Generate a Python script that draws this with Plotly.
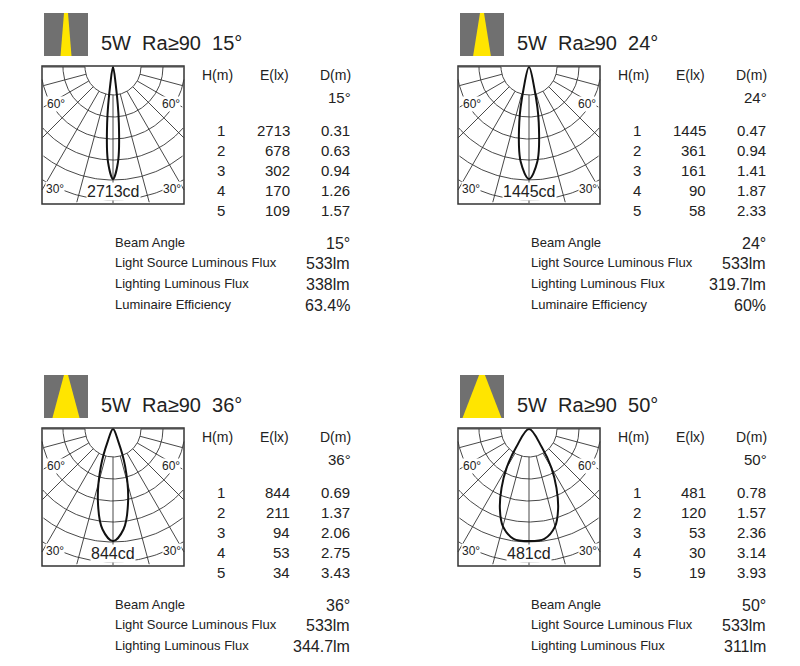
import math
import plotly.graph_objects as go

# data
beam_angles = [15, 24, 36, 50]
heights = [1, 2, 3, 4, 5]
illum = [[2713, 678, 302, 170, 109],
         [1445, 361, 161, 90, 58],
         [844, 211, 94, 53, 34],
         [481, 120, 53, 30, 19]]
diam = [["0.31", "0.63", "0.94", "1.26", "1.57"],
        ["0.47", "0.94", "1.41", "1.87", "2.33"],
        ["0.69", "1.37", "2.06", "2.75", "3.43"],
        ["0.78", "1.57", "2.36", "3.14", "3.93"]]
peak_cd = [2713, 1445, 844, 481]
source_flux = ["533lm", "533lm", "533lm", "533lm"]
lighting_flux = ["338lm", "319.7lm", "344.7lm", "311lm"]
efficiency = ["63.4%", "60%", None, None]
spec_labels = ["Beam Angle", "Light Source Luminous Flux", "Lighting Luminous Flux", "Luminaire Efficiency"]

# relative intensity curves (angle in deg from nadir, relative intensity)
lobe_angles = [[0, 3, 6, 9, 11],
               [0, 5, 10, 14, 18],
               [0, 6, 12, 18, 23, 27],
               [0, 8, 15, 20, 25, 30, 35, 40]]
lobe_values = [[1, 0.85, 0.5, 0.15, 0],
               [1, 0.85, 0.5, 0.2, 0],
               [1, 0.9, 0.65, 0.35, 0.12, 0],
               [1, 0.99, 0.9, 0.76, 0.58, 0.4, 0.2, 0]]

grid_radii = [28, 50, 72, 93, 113, 133]
grid_spokes = list(range(-90, 91, 15))

origins = [(0, 0), (416, 0), (0, 362), (416, 362)]
FONT = "Liberation Sans, Arial, sans-serif"

fig = go.Figure()
shapes = []
annots = []


def txt(x, y, s, size=13, anchor="center", bg=None):
    annots.append(dict(x=x, y=y, text=s, showarrow=False, xanchor=anchor, yanchor="middle",
                       font=dict(size=size, color="#222", family=FONT),
                       bgcolor=bg, borderpad=0))


for i, (ox, oy) in enumerate(origins):
    bx0, bx1, by0, by1 = 42 + ox, 184 + ox, 66 + oy, 204 + oy
    cx, cy = (bx0 + bx1) / 2, by0 + 1

    def inside(x, y):
        return bx0 <= x <= bx1 and by0 <= y <= by1

    gx, gy = [], []
    for r in grid_radii:
        for k in range(0, 181):
            a = math.radians(k)
            x, y = cx + r * math.cos(a), cy + r * math.sin(a)
            if inside(x, y):
                gx.append(x); gy.append(y)
            else:
                gx.append(None); gy.append(None)
        gx.append(None); gy.append(None)
    for s in grid_spokes:
        a = math.radians(s)
        for r in range(grid_radii[0], 200, 2):
            x, y = cx + r * math.sin(a), cy + r * math.cos(a)
            if inside(x, y):
                gx.append(x); gy.append(y)
        gx.append(None); gy.append(None)
    fig.add_trace(go.Scatter(x=gx, y=gy, mode="lines", line=dict(color="#333", width=0.9),
                             hoverinfo="skip", showlegend=False))

    # beam lobe
    rmax = 112
    angs = lobe_angles[i]
    vals = lobe_values[i]
    pts = [(-a, v) for a, v in zip(angs[::-1], vals[::-1])] + [(a, v) for a, v in zip(angs[1:], vals[1:])]
    lx = [cx + rmax * v * math.sin(math.radians(a)) for a, v in pts]
    ly = [cy + rmax * v * math.cos(math.radians(a)) for a, v in pts]
    fig.add_trace(go.Scatter(x=lx, y=ly, mode="lines", line=dict(color="#111", width=2, shape="spline"),
                             hoverinfo="skip", showlegend=False))

    shapes.append(dict(type="rect", xref="x", yref="y", x0=bx0, x1=bx1, y0=by0, y1=by1,
                       line=dict(color="#333", width=1.5)))

    # icon
    ix0, iy0 = 44 + ox, 13 + oy
    shapes.append(dict(type="rect", xref="x", yref="y", x0=ix0, x1=ix0 + 44, y0=iy0, y1=iy0 + 43,
                       fillcolor="#707070", line=dict(width=0)))
    half = 22 * math.tan(math.radians(beam_angles[i] / 2)) * 1.9
    top = max(2, half * 0.15)
    mx = ix0 + 22
    shapes.append(dict(type="path", xref="x", yref="y",
                       path=f"M{mx - top},{iy0} L{mx + top},{iy0} L{min(mx + half, ix0 + 44)},{iy0 + 43} L{max(mx - half, ix0)},{iy0 + 43} Z",
                       fillcolor="#ffe500", line=dict(width=0)))

    txt(100 + ox, 43 + oy, f"5W  Ra≥90  {beam_angles[i]}°", size=20, anchor="left")

    txt(46 + ox, 104 + oy, "60°", size=12, anchor="left", bg="white")
    txt(181 + ox, 104 + oy, "60°", size=12, anchor="right", bg="white")
    txt(45 + ox, 189 + oy, "30°", size=12, anchor="left", bg="white")
    txt(182 + ox, 189 + oy, "30°", size=12, anchor="right", bg="white")
    txt(cx, 191 + oy, f"{peak_cd[i]}cd", size=16, bg="white")

    txt(217 + ox, 75 + oy, "H(m)", size=14)
    txt(274 + ox, 75 + oy, "E(lx)", size=14)
    txt(352 + ox, 75 + oy, "D(m)", size=14, anchor="right")
    txt(352 + ox, 97 + oy, f"{beam_angles[i]}°", size=15, anchor="right")
    for j, h in enumerate(heights):
        y = 130 + 20.2 * j + oy
        txt(221 + ox, y, str(h), size=15)
        txt(291 + ox, y, str(illum[i][j]), size=15, anchor="right")
        txt(351 + ox, y, diam[i][j], size=15, anchor="right")

    values = [f"{beam_angles[i]}°", source_flux[i], lighting_flux[i], efficiency[i]]
    for j, (lab, val) in enumerate(zip(spec_labels, values)):
        y = 242 + 20.7 * j + oy
        if y > 660 or val is None:
            continue
        txt(114 + ox, y, lab, size=13, anchor="left")
        txt(351 + ox, y + 1, val, size=16, anchor="right")

# page body has an 8px margin, so offset the ranges to keep data coords == picture pixels
fig.update_layout(
    width=800, height=666, margin=dict(l=0, r=0, t=0, b=0),
    paper_bgcolor="white", plot_bgcolor="white",
    xaxis=dict(range=[8, 808], visible=False, fixedrange=True),
    yaxis=dict(range=[674, 8], visible=False, fixedrange=True),
    shapes=shapes, annotations=annots,
)
fig.write_html("out.html")
